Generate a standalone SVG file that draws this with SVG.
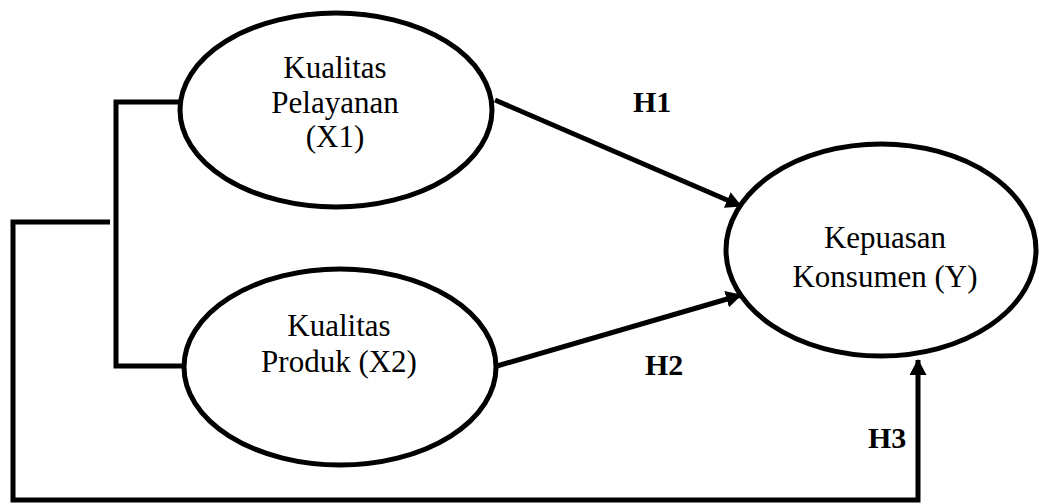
<svg xmlns="http://www.w3.org/2000/svg" width="1039" height="504" viewBox="0 0 1039 504">
<style>
.node{fill:#fff;stroke:#000;stroke-width:5}
.lbl{font-family:"Liberation Serif","Times New Roman",serif;font-size:31px;fill:#000;text-anchor:middle}
.h{font-family:"Liberation Serif","Times New Roman",serif;font-size:30px;font-weight:bold;fill:#000}
.ln{fill:none;stroke:#000;stroke-width:5}
</style>
<defs>
<marker id="arr" markerWidth="16" markerHeight="17" refX="15" refY="8.5" orient="auto" markerUnits="userSpaceOnUse">
<path d="M0,0 L16,8.5 L0,17 Z" fill="#000"/>
</marker>
</defs>
<rect width="1039" height="504" fill="#fff"/>
<g id="connectors">
<polyline class="ln" points="180,102 116,102 116,366 184,366"/>
<polyline class="ln" points="110,222 13,222 13,500 918,500 918,360" marker-end="url(#arr)"/>
<line class="ln" x1="495" y1="100" x2="741" y2="206" marker-end="url(#arr)"/>
<line class="ln" x1="497" y1="366" x2="741" y2="295" marker-end="url(#arr)"/>
<text class="h" x="633" y="112">H1</text>
<text class="h" x="645" y="375">H2</text>
<text class="h" x="868" y="448">H3</text>
</g>
<g id="x1">
<ellipse class="node" cx="336" cy="110" rx="156" ry="97"/>
<text class="lbl" x="335" y="78">Kualitas</text>
<text class="lbl" x="335" y="113">Pelayanan</text>
<text class="lbl" x="335" y="147">(X1)</text>
</g>
<g id="x2">
<ellipse class="node" cx="340" cy="367" rx="156" ry="98"/>
<text class="lbl" x="339" y="336">Kualitas</text>
<text class="lbl" x="339" y="372">Produk (X2)</text>
</g>
<g id="y">
<ellipse class="node" cx="881" cy="250" rx="155" ry="106"/>
<text class="lbl" x="885" y="248">Kepuasan</text>
<text class="lbl" x="885" y="287">Konsumen (Y)</text>
</g>
</svg>
